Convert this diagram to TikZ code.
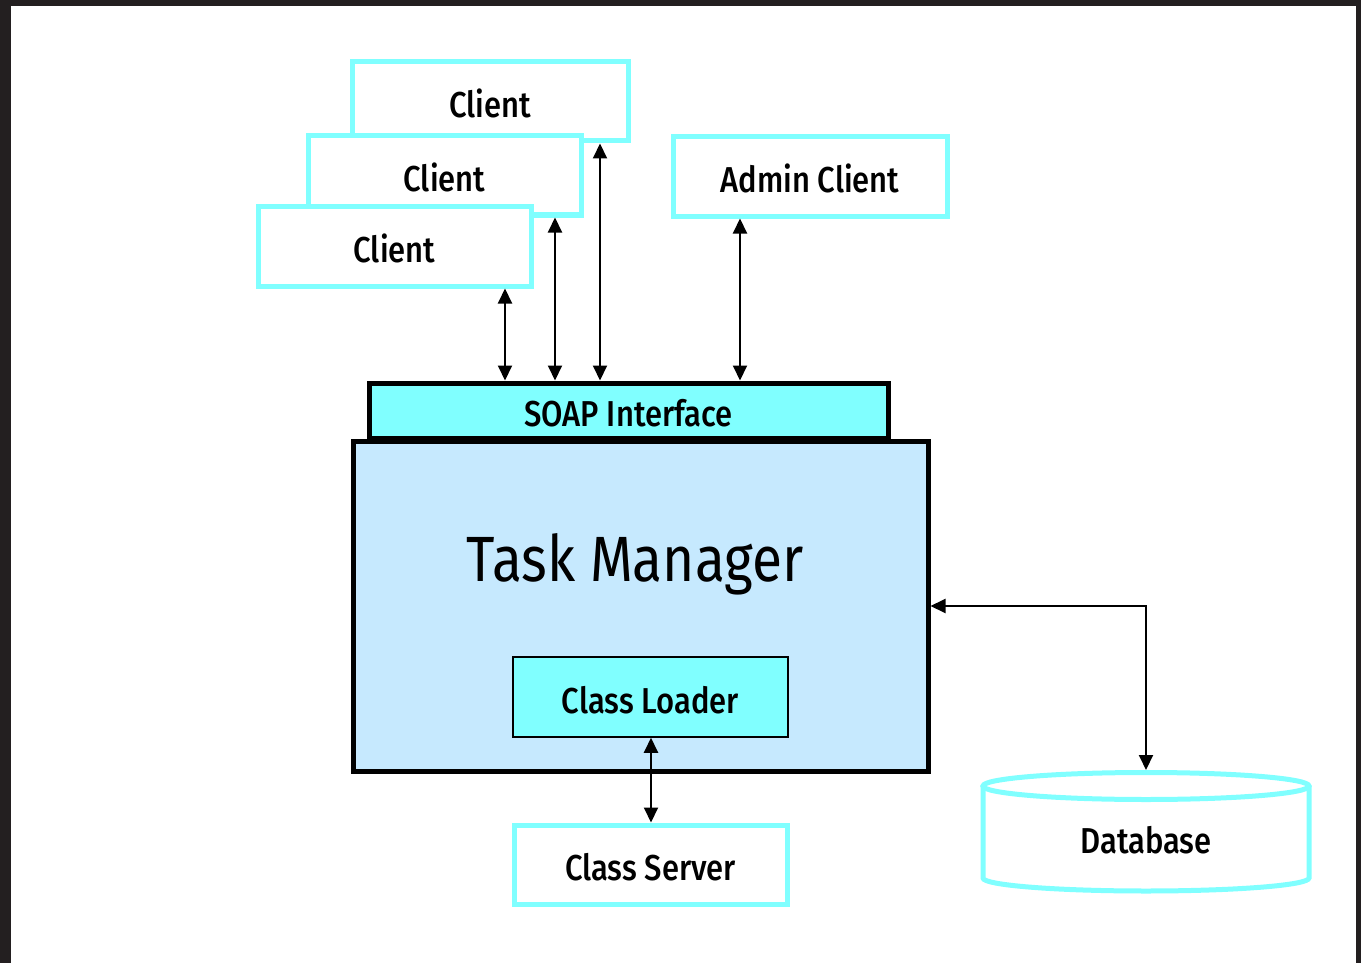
\documentclass[tikz,border=0pt]{standalone}
\usepackage{fontspec}
\setmainfont[FakeStretch=0.86]{Fira Sans Medium}
\newfontfamily\tmfont[FakeStretch=0.86]{Fira Sans}
\usetikzlibrary{arrows.meta,calc}
\definecolor{cyanb}{HTML}{80FFFF}
\definecolor{tmfill}{HTML}{C6E9FE}
\definecolor{frame}{HTML}{231F20}
\tikzset{
  lbl/.style={font=\fontsize{36}{40}\selectfont,text height=32pt,text depth=0pt},
  cbox/.style={draw=cyanb,line width=5pt,fill=white,inner sep=0pt,lbl},
  bbox/.style={draw=black,line width=5pt,inner sep=0pt},
  arr/.style={line width=2pt,{Triangle[length=15pt,width=14pt]}-{Triangle[length=15pt,width=14pt]}},
}
\begin{document}
\begin{tikzpicture}[x=1pt,y=-1pt]
\useasboundingbox (0,0) rectangle (1361,963);
\fill[frame] (0,0) rectangle (1361,6);
\fill[frame] (0,0) rectangle (11,963);
\fill[frame] (1356,0) rectangle (1361,963);

% clients
\node[cbox,minimum width=276pt,minimum height=79pt] (c3) at (490,101.5) {Client};
\node[cbox,minimum width=273pt,minimum height=79pt] (c2) at (444.5,175.5) {Client};
\node[cbox,minimum width=273pt,minimum height=79pt] (c1) at (394.5,246.5) {Client};
\node[cbox,minimum width=274pt,minimum height=79pt] (adm) at (810,176.5) {Admin Client};

% task manager
\node[bbox,fill=tmfill,minimum width=575pt,minimum height=330pt] (tm) at (640.5,606) {};
\node[font=\tmfont\fontsize{64}{70}\selectfont,inner sep=0pt] (tmlabel) at (635,564) {Task Manager};
\node[bbox,fill=cyanb,minimum width=519pt,minimum height=55pt,lbl] (soap) at (628.5,410.5) {SOAP Interface};
\node[draw=black,line width=1.5pt,fill=cyanb,inner sep=0pt,minimum width=275pt,minimum height=80pt,lbl] (cl) at (650.5,697) {Class Loader};

% class server
\node[cbox,minimum width=273pt,minimum height=79pt] (cs) at (650.5,864.5) {Class Server};

% database
\draw[cyanb,line width=5pt,fill=white] (983,786) -- (983,878) arc[start angle=180,end angle=0,x radius=163,y radius=13] -- (1309,786);
\draw[cyanb,line width=5pt] (1146,786) ellipse[x radius=163,y radius=13.5];
\node[inner sep=0pt,lbl] (db) at (1146,837) {Database};
\coordinate (dbtop) at (1146,770);

% x positions of connectors
\coordinate (x1) at (505,0);
\coordinate (x2) at (555,0);
\coordinate (x3) at (600,0);
\coordinate (x4) at (740,0);
\coordinate (xcl) at (651,0);
\coordinate (ydb) at (0,606);

\draw[arr] (c1.south -| x1) -- (soap.north -| x1);
\draw[arr] (c2.south -| x2) -- (soap.north -| x2);
\draw[arr] (c3.south -| x3) -- (soap.north -| x3);
\draw[arr] (adm.south -| x4) -- (soap.north -| x4);
\draw[arr] (cl.south -| xcl) -- (cs.north -| xcl);
\draw[arr] (tm.east |- ydb) -| (dbtop);
\end{tikzpicture}
\end{document}
